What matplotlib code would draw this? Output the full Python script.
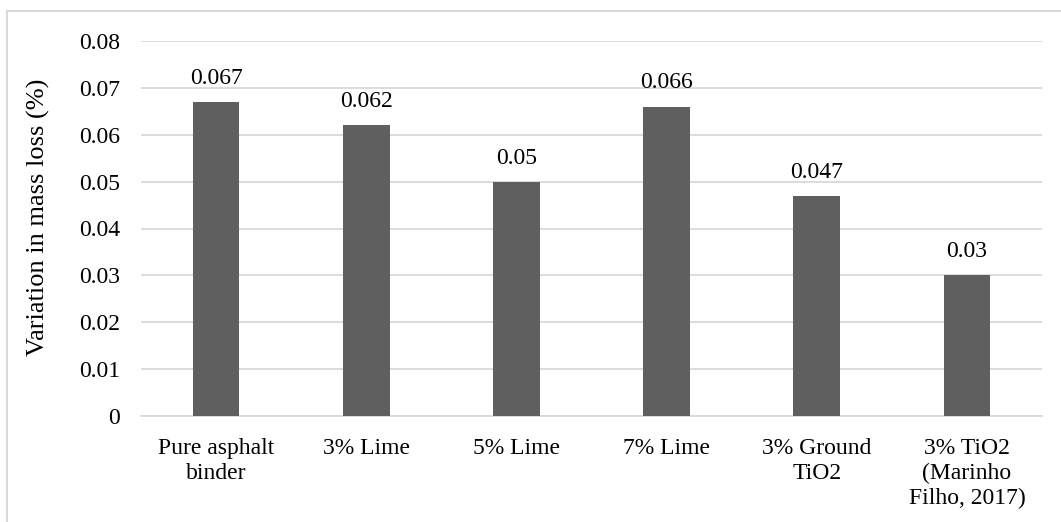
import matplotlib.pyplot as plt
from matplotlib.patches import Rectangle
import numpy as np

categories = ["Pure asphalt\nbinder", "3% Lime", "5% Lime", "7% Lime",
              "3% Ground\nTiO2", "3% TiO2\n(Marinho\nFilho, 2017)"]
values = [0.067, 0.062, 0.05, 0.066, 0.047, 0.03]
value_labels = ["0.067", "0.062", "0.05", "0.066", "0.047", "0.03"]
yticks = [0, 0.01, 0.02, 0.03, 0.04, 0.05, 0.06, 0.07, 0.08]
ytick_labels = ["0", "0.01", "0.02", "0.03", "0.04", "0.05", "0.06", "0.07", "0.08"]

plt.rcParams['font.family'] = ['Liberation Serif', 'DejaVu Serif']

W, H = 1061, 522
fig = plt.figure(figsize=(W / 100, H / 100), dpi=100)
# axes placed in pixel coords: left 141, right 1042, top 41, bottom 416
ax = fig.add_axes([141 / W, 1 - 416 / H, (1042 - 141) / W, (416 - 41) / H])

# outer frame (only top and left visible in reference)
fig.patches.append(Rectangle((6.5 / W, -0.1), 1.2, 1 - 11 / H + 0.1,
                             transform=fig.transFigure, fill=False,
                             edgecolor='#d9d9d9', linewidth=1.5))

x = np.arange(len(categories))
ax.bar(x, values, width=0.31, color='#5f5f5f', zorder=3)
for xi, v, lab in zip(x, values, value_labels):
    ax.text(xi, v + 0.0028, lab, ha='center', va='bottom', fontsize=17, color='#000000')

ax.set_xlim(-0.5, len(categories) - 0.5)
ax.set_ylim(0, 0.08)
ax.set_yticks(yticks)
ax.set_yticklabels(ytick_labels, fontsize=17)
ax.set_xticks(x)
ax.set_xticklabels(categories, fontsize=17, linespacing=1.22)
ax.tick_params(axis='x', length=0, pad=16)
ax.tick_params(axis='y', length=0, pad=15)
ax.yaxis.grid(True, color='#d9d9d9', linewidth=1.3, zorder=0)
for s in ['top', 'right', 'left']:
    ax.spines[s].set_visible(False)
ax.spines['bottom'].set_color('#d9d9d9')
ax.spines['bottom'].set_linewidth(1.3)
ax.set_ylabel("Variation in mass loss (%)", fontsize=19)
ax.yaxis.set_label_coords((50 - 141) / (1042 - 141), (416 - 217) / (416 - 41))

fig.savefig("out.png", dpi=100)
